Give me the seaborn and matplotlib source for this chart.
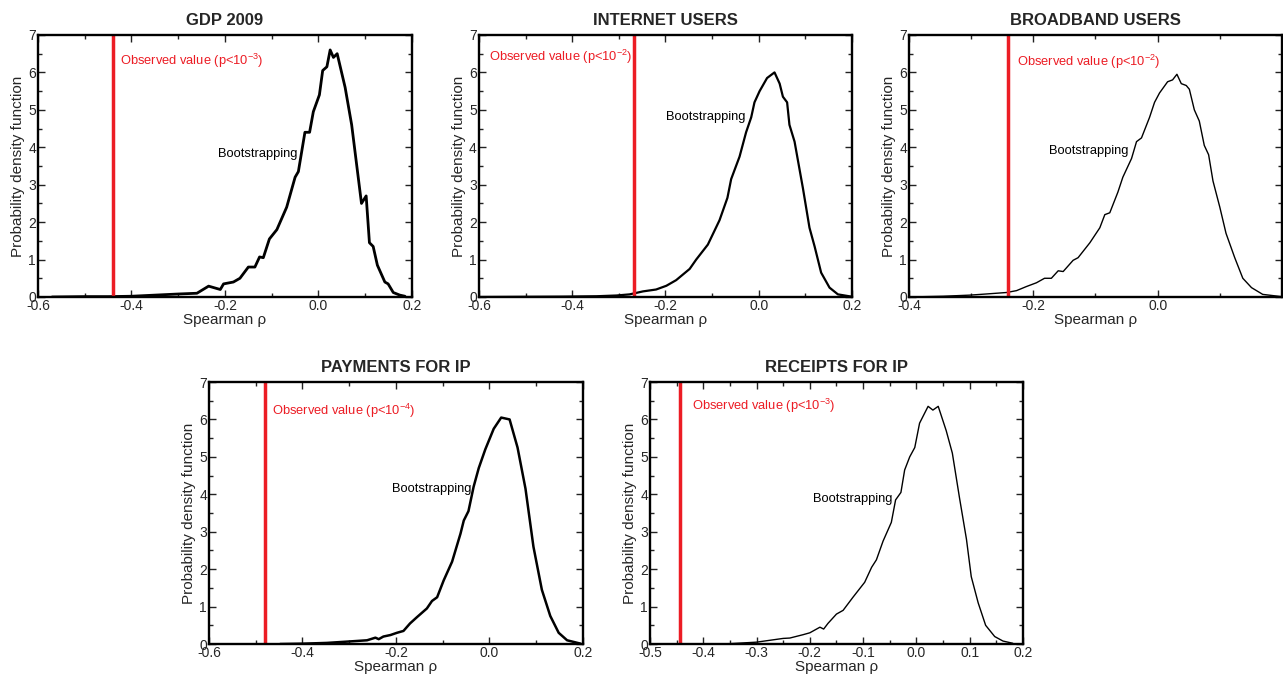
import numpy as np
import pandas as pd
import seaborn as sns
import matplotlib.pyplot as plt
from matplotlib.ticker import MultipleLocator, FuncFormatter

sns.set_style('ticks')
plt.rcParams['font.family'] = ['Liberation Sans', 'DejaVu Sans']
plt.rcParams['mathtext.fontset'] = 'custom'
plt.rcParams['mathtext.rm'] = 'Liberation Sans'
plt.rcParams['mathtext.default'] = 'regular'

# Datos (rho, densidad)
gdp_x = [-0.57, -0.5, -0.45, -0.4, -0.35, -0.3, -0.26, -0.235, -0.21, -0.203, -0.182, -0.168,
         -0.15, -0.136, -0.126, -0.118, -0.105, -0.089, -0.068, -0.05, -0.043, -0.029, -0.019,
         -0.011, 0.002, 0.009, 0.018, 0.025, 0.032, 0.04, 0.057, 0.071, 0.092, 0.102, 0.109,
         0.117, 0.126, 0.142, 0.149, 0.16, 0.174, 0.185]
gdp_y = [0.0, 0.01, 0.01, 0.02, 0.05, 0.08, 0.1, 0.29, 0.2, 0.35, 0.4, 0.5,
         0.8, 0.8, 1.07, 1.05, 1.55, 1.8, 2.4, 3.2, 3.35, 4.4, 4.4,
         4.95, 5.4, 6.05, 6.15, 6.6, 6.4, 6.5, 5.6, 4.6, 2.5, 2.7, 1.45,
         1.35, 0.85, 0.4, 0.35, 0.12, 0.05, 0.02]

inet_x = [-0.6, -0.42, -0.348, -0.305, -0.277, -0.266, -0.248, -0.22, -0.198, -0.177, -0.148,
          -0.134, -0.109, -0.084, -0.067, -0.059, -0.041, -0.027, -0.016, -0.009, 0.002, 0.018,
          0.034, 0.045, 0.052, 0.061, 0.066, 0.077, 0.095, 0.109, 0.12, 0.134, 0.152, 0.17, 0.199]
inet_y = [0.0, 0.01, 0.02, 0.04, 0.07, 0.1, 0.15, 0.2, 0.3, 0.45, 0.75,
          1.0, 1.4, 2.05, 2.65, 3.15, 3.75, 4.4, 4.8, 5.2, 5.5, 5.85,
          6.0, 5.7, 5.35, 5.2, 4.6, 4.15, 2.9, 1.85, 1.35, 0.65, 0.25, 0.07, 0.01]

broad_x = [-0.4, -0.345, -0.302, -0.276, -0.243, -0.227, -0.211, -0.195, -0.182, -0.171, -0.16,
           -0.152, -0.136, -0.128, -0.109, -0.093, -0.085, -0.077, -0.064, -0.056, -0.042, -0.034,
           -0.026, -0.013, -0.005, 0.003, 0.016, 0.024, 0.031, 0.038, 0.046, 0.051, 0.059, 0.067,
           0.075, 0.082, 0.089, 0.1, 0.11, 0.124, 0.137, 0.151, 0.169, 0.199]
broad_y = [0.0, 0.02, 0.05, 0.08, 0.12, 0.17, 0.28, 0.38, 0.5, 0.5, 0.7,
           0.68, 0.98, 1.05, 1.45, 1.85, 2.2, 2.25, 2.8, 3.2, 3.7, 4.15,
           4.25, 4.8, 5.2, 5.45, 5.75, 5.8, 5.95, 5.7, 5.65, 5.55, 5.0, 4.7,
           4.05, 3.8, 3.1, 2.4, 1.7, 1.05, 0.5, 0.25, 0.07, 0.01]

pay_x = [-0.448, -0.398, -0.348, -0.298, -0.262, -0.244, -0.237, -0.227, -0.212, -0.198, -0.184,
         -0.17, -0.155, -0.134, -0.123, -0.112, -0.098, -0.08, -0.062, -0.055, -0.045, -0.034,
         -0.023, -0.009, 0.009, 0.025, 0.043, 0.06, 0.077, 0.094, 0.112, 0.13, 0.148, 0.166, 0.195]
pay_y = [0.0, 0.01, 0.03, 0.07, 0.1, 0.17, 0.13, 0.2, 0.24, 0.3, 0.35,
         0.55, 0.72, 0.95, 1.15, 1.25, 1.7, 2.2, 2.95, 3.3, 3.55, 4.2,
         4.7, 5.2, 5.75, 6.05, 6.0, 5.25, 4.15, 2.6, 1.45, 0.75, 0.3, 0.1, 0.01]

rec_x = [-0.4, -0.35, -0.3, -0.25, -0.2375, -0.2125, -0.2, -0.181, -0.174, -0.166, -0.15,
         -0.1375, -0.119, -0.097, -0.084, -0.075, -0.0625, -0.047, -0.039, -0.029, -0.022,
         -0.0125, -0.003, 0.006, 0.022, 0.031, 0.041, 0.056, 0.0675, 0.081, 0.094, 0.103,
         0.116, 0.13, 0.147, 0.1625, 0.181]
rec_y = [0.0, 0.01, 0.05, 0.15, 0.16, 0.25, 0.3, 0.45, 0.4, 0.55, 0.8,
         0.9, 1.25, 1.65, 2.05, 2.25, 2.75, 3.25, 3.85, 4.05, 4.65,
         5.0, 5.25, 5.9, 6.35, 6.25, 6.35, 5.7, 5.1, 3.9, 2.8, 1.8,
         1.1, 0.5, 0.2, 0.08, 0.02]

titles = ['GDP 2009', 'INTERNET USERS', 'BROADBAND USERS', 'PAYMENTS FOR IP', 'RECEIPTS FOR IP']
observed = [-0.44, -0.268, -0.241, -0.48, -0.443]
p_exp = [-3, -2, -2, -4, -3]

curvas = [(gdp_x, gdp_y), (inet_x, inet_y), (broad_x, broad_y), (pay_x, pay_y), (rec_x, rec_y)]
xlims = [(-0.6, 0.2), (-0.6, 0.2), (-0.4, 0.2), (-0.6, 0.2), (-0.5, 0.2)]
xmajor = [0.2, 0.2, 0.2, 0.2, 0.1]
anchos = [2.0, 1.6, 1.0, 1.8, 1.0]
pos = [[0.0296, 0.5626, 0.2915, 0.3859],
       [0.3733, 0.5626, 0.2907, 0.3859],
       [0.7085, 0.5626, 0.2907, 0.3859],
       [0.1629, 0.0515, 0.2915, 0.3859],
       [0.5066, 0.0515, 0.2907, 0.3859]]
obs_txt = [(-0.424, 6.3), (-0.579, 6.42), (-0.227, 6.29), (-0.466, 6.24), (-0.422, 6.35)]
boot_txt = [(-0.045, 3.82), (-0.028, 4.8), (-0.047, 3.91), (-0.038, 4.14), (-0.045, 3.87)]

rojo = '#ec1c24'
fig = plt.figure(figsize=(12.83, 6.79), dpi=100)

for i in range(5):
    ax = fig.add_axes(pos[i])
    df = pd.DataFrame({'rho': curvas[i][0], 'pdf': curvas[i][1]})
    sns.lineplot(data=df, x='rho', y='pdf', color='black', linewidth=anchos[i], ax=ax)
    ax.axvline(observed[i], color=rojo, linewidth=2.5)
    ax.text(obs_txt[i][0], obs_txt[i][1],
            'Observed value (p<10$^{%d}$)' % p_exp[i],
            color=rojo, fontsize=9.3, va='center', ha='left')
    ax.text(boot_txt[i][0], boot_txt[i][1], 'Bootstrapping',
            color='black', fontsize=9.3, va='center', ha='right')
    ax.set_xlim(*xlims[i])
    ax.set_ylim(0, 7)
    ax.xaxis.set_major_locator(MultipleLocator(xmajor[i]))
    ax.xaxis.set_minor_locator(MultipleLocator(xmajor[i] / 2))
    # el panel de banda ancha no muestra la etiqueta 0.2 (queda fuera)
    lim_der = xlims[i][1] if i != 2 else 0.15
    ax.xaxis.set_major_formatter(FuncFormatter(
        lambda v, p, lim=lim_der: '%.1f' % v if v <= lim + 1e-9 else ''))
    ax.yaxis.set_major_locator(MultipleLocator(1))
    ax.yaxis.set_minor_locator(MultipleLocator(0.5))
    ax.tick_params(which='both', direction='in', top=True, right=True,
                   labelsize=10, pad=1.5, width=1, color='#222222')
    ax.tick_params(which='major', length=5)
    ax.tick_params(which='minor', length=3)
    for s in ax.spines.values():
        s.set_linewidth(1.7)
        s.set_color('black')
    ax.set_xlabel('Spearman ρ', fontsize=11, labelpad=0)
    ax.set_ylabel('Probability density function', fontsize=11, labelpad=2)
    ax.set_title(titles[i], fontsize=12, fontweight='bold', pad=7)

plt.savefig('out.png', dpi=100)
